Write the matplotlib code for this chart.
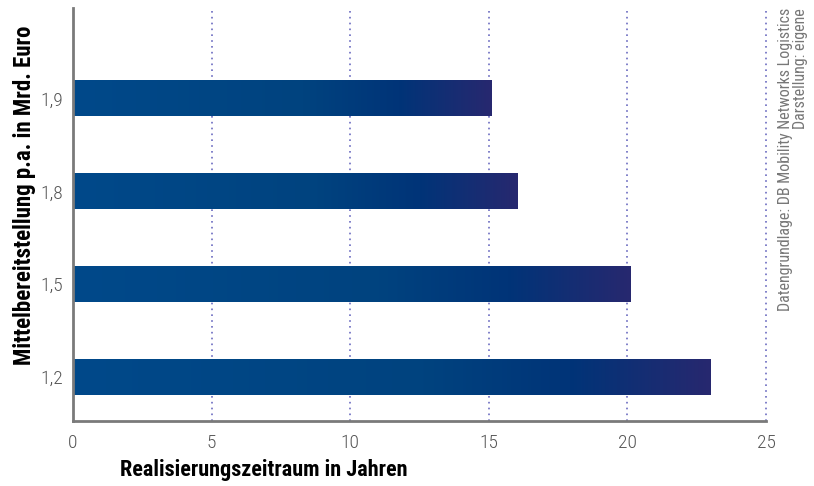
import matplotlib
matplotlib.use("Agg")
import matplotlib.pyplot as plt
import numpy as np
from matplotlib.colors import LinearSegmentedColormap

# ── data ──────────────────────────────────────────────────────────────────────
categories = ["1,2", "1,5", "1,8", "1,9"]   # Mittelbereitstellung p.a. (Mrd. Euro)
years = [23, 20.1, 16.05, 15.1]              # Realisierungszeitraum in Jahren
x_ticks = [0, 5, 10, 15, 20, 25]

plt.rcParams["font.family"] = ["Roboto Condensed", "Liberation Sans Narrow", "Roboto", "DejaVu Sans"]

bar_cmap = LinearSegmentedColormap.from_list(
    "bar", [(0, "#00498a"), (0.55, "#00437f"), (0.78, "#003478"), (1, "#27286f")])

fig = plt.figure(figsize=(8.14, 4.86), dpi=100)
ax = fig.add_axes([73 / 814, 1 - 421 / 486, (766 - 73) / 814, (421 - 8) / 486])

ax.set_xlim(0, 25)
ax.set_ylim(-0.475, 3.98)

# dotted grid
for xv in x_ticks[1:]:
    ax.axvline(xv, color="#6b6bc0", linestyle=(0, (1, 2.5)), linewidth=1.2,
               zorder=1, clip_on=False)

# gradient bars
grad = np.linspace(0, 1, 256).reshape(1, -1)
h = 0.38
for i, v in enumerate(years):
    ax.imshow(grad, cmap=bar_cmap, aspect="auto", extent=(0, v, i - h / 2, i + h / 2),
              zorder=2, interpolation="bilinear")

ax.set_yticks(range(len(categories)))
ax.set_yticklabels(categories)
ax.set_xticks(x_ticks)

for s in ["top", "right"]:
    ax.spines[s].set_visible(False)
for s in ["left", "bottom"]:
    ax.spines[s].set_color("#7a7a7a")
    ax.spines[s].set_linewidth(2)

ax.tick_params(axis="both", length=0, labelsize=14, colors="#555555", pad=7)
ax.tick_params(axis="x", pad=9)
for lab in ax.get_xticklabels() + ax.get_yticklabels():
    lab.set_fontweight("light")

fig.text(120 / 814, 1 - 470 / 486, "Realisierungszeitraum in Jahren",
         fontsize=16, fontweight="bold", ha="left", va="center")
fig.text(25 / 814, 1 - 195 / 486, "Mittelbereitstellung p.a. in Mrd. Euro",
         fontsize=16.5, fontweight="bold", rotation=90, ha="center", va="center")
fig.text(793 / 814, 1 - 8 / 486,
         "Datengrundlage: DB Mobility Networks Logistics\nDarstellung: eigene",
         fontsize=11.5, color="#777777", rotation=90, ha="center", va="top",
         multialignment="right", linespacing=1.0)

fig.savefig("out.png", dpi=100)
